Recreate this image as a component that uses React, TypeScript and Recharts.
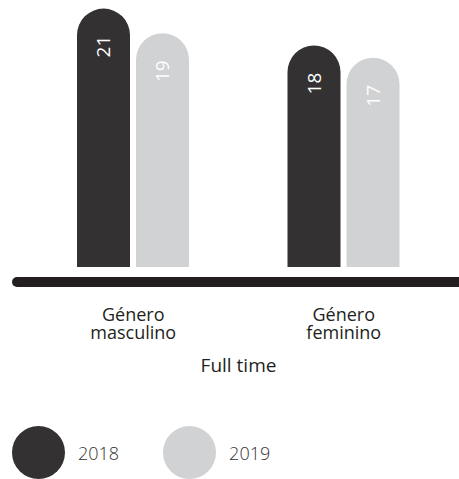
import { BarChart, Bar, XAxis, YAxis, LabelList } from 'recharts';

const categories = ['Género masculino', 'Género feminino'];
const years = ['2018', '2019'];
const values2018 = [21, 18];
const values2019 = [19, 17];
const colors = ['#333132', '#d1d2d4'];

const data = categories.map((name, i) => ({
  name,
  y2018: values2018[i],
  y2019: values2019[i],
}));

const FONT = "'Open Sans', sans-serif";

const CategoryTick = ({ x, y, payload }: any) => {
  const words = String(payload.value).split(' ');
  return (
    <text x={x} y={y + 46} textAnchor="middle" fill="#231f20" fontSize={18} fontWeight={500} fontFamily={FONT}>
      {words.map((w, i) => (
        <tspan key={i} x={x} dy={i === 0 ? 0 : 18}>
          {w}
        </tspan>
      ))}
    </text>
  );
};

const AxisTitle = ({ viewBox }: any) => (
  <text
    x={viewBox.x + viewBox.width / 2}
    y={viewBox.y + 105}
    textAnchor="middle"
    fill="#231f20"
    fontSize={19}
    fontWeight={500}
    fontFamily={FONT}
  >
    Full time
  </text>
);

const ValueLabel = ({ x, y, width, value }: any) => {
  const cx = x + width / 2;
  const cy = y + 38;
  return (
    <text
      x={cx}
      y={cy}
      transform={`rotate(-90 ${cx} ${cy})`}
      textAnchor="middle"
      dominantBaseline="central"
      fill="#ffffff"
      fontSize={19}
      fontWeight={500}
      fontFamily={FONT}
    >
      {value}
    </text>
  );
};

export default function App() {
  return (
    <div style={{ position: 'absolute', left: 0, top: 0, width: 459, height: 479, background: '#fff' }}>
      <BarChart
        width={459}
        height={479}
        data={data}
        margin={{ top: 0, right: 10, left: 28, bottom: 102 }}
        barSize={53}
        barGap={6}
      >
        <YAxis hide domain={[0, 21.7]} />
        <XAxis
          dataKey="name"
          axisLine={false}
          tickLine={false}
          height={110}
          interval={0}
          tick={<CategoryTick />}
          label={<AxisTitle />}
        />
        <Bar dataKey="y2018" fill={colors[0]} radius={[26.5, 26.5, 0, 0]} isAnimationActive={false}>
          <LabelList dataKey="y2018" content={<ValueLabel />} />
        </Bar>
        <Bar dataKey="y2019" fill={colors[1]} radius={[26.5, 26.5, 0, 0]} isAnimationActive={false}>
          <LabelList dataKey="y2019" content={<ValueLabel />} />
        </Bar>
      </BarChart>
      <div
        style={{
          position: 'absolute',
          left: 12,
          top: 277,
          width: 460,
          height: 10,
          borderRadius: 5,
          background: '#231f20',
        }}
      />
      <div style={{ position: 'absolute', left: 12, top: 426, display: 'flex', alignItems: 'center' }}>
        {years.map((yr, i) => (
          <div key={yr} style={{ display: 'flex', alignItems: 'center', marginRight: i === 0 ? 44 : 0 }}>
            <div style={{ width: 53, height: 53, borderRadius: '50%', background: colors[i] }} />
            <span
              style={{
                marginLeft: 13,
                fontFamily: FONT,
                fontSize: 18,
                fontWeight: 300,
                color: '#333132',
              }}
            >
              {yr}
            </span>
          </div>
        ))}
      </div>
    </div>
  );
}
